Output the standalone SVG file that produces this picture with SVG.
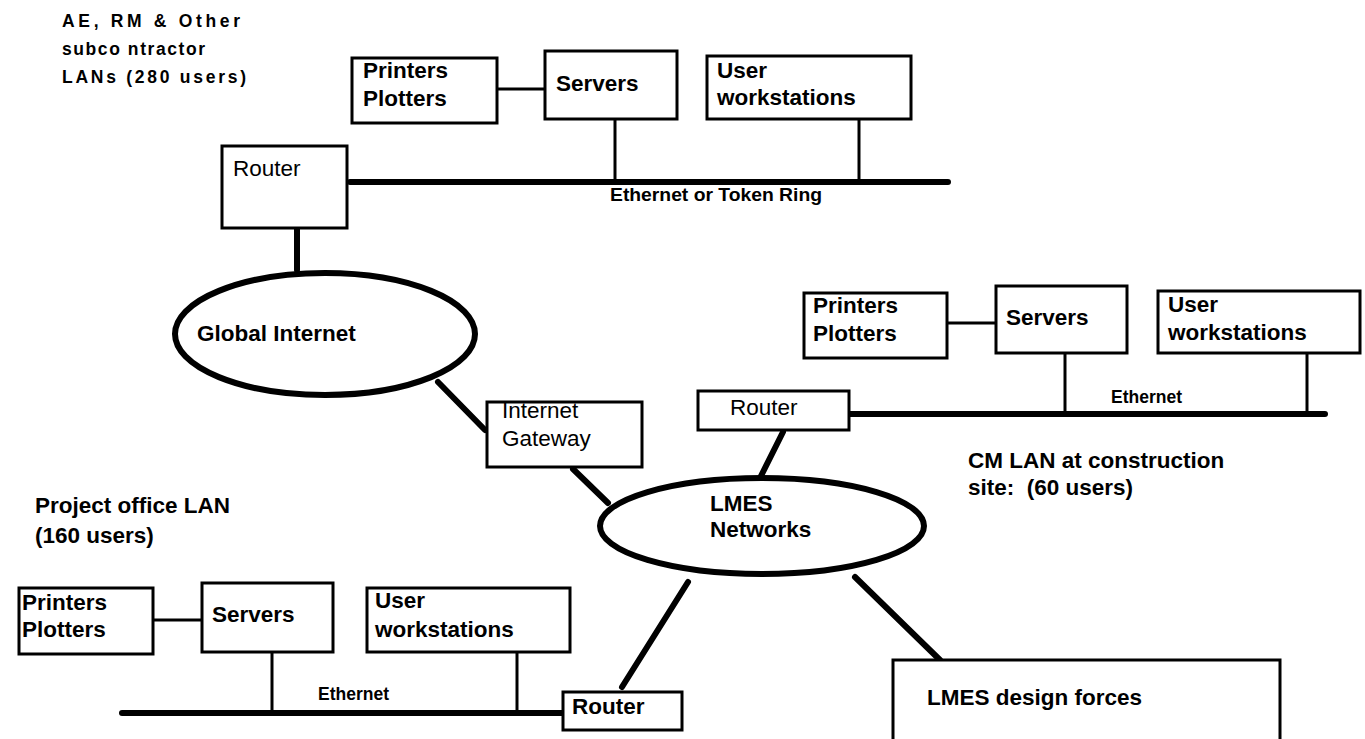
<svg xmlns="http://www.w3.org/2000/svg" width="1365" height="739" viewBox="0 0 1365 739">
<style>
  .box { fill: #fff; stroke: #000; stroke-width: 3; }
  .ell { fill: #fff; stroke: #000; stroke-width: 6; }
  .thin { stroke: #000; stroke-width: 3; fill: none; }
  .thick { stroke: #000; stroke-width: 6; fill: none; stroke-linecap: round; }
  .bus { stroke: #000; stroke-width: 6; fill: none; stroke-linecap: round; }
  .b { font-family: "Liberation Sans", Arial, sans-serif; font-weight: bold; font-size: 22.5px; fill: #000; }
  .r { font-family: "Liberation Sans", Arial, sans-serif; font-weight: normal; font-size: 22.5px; fill: #000; }
  .s { font-family: "Liberation Sans", Arial, sans-serif; font-weight: bold; font-size: 17.5px; fill: #000; }
  .h { font-family: "Liberation Sans", Arial, sans-serif; font-weight: bold; font-size: 17.5px; fill: #000; }
</style>
<rect width="1365" height="739" fill="#fff"/>

<g id="connectors">
  <line class="thin" x1="497" y1="89" x2="545" y2="89"/>
  <line class="thin" x1="615" y1="119" x2="615" y2="182"/>
  <line class="thin" x1="859" y1="119" x2="859" y2="182"/>
  <line class="bus" x1="350" y1="182" x2="948" y2="182"/>
  <line class="thick" x1="297" y1="229" x2="297" y2="270"/>
  <line class="thick" x1="438" y1="382" x2="485" y2="430"/>
  <line class="thick" x1="573" y1="469" x2="608" y2="503"/>
  <line class="thin" x1="947" y1="323" x2="996" y2="323"/>
  <line class="thin" x1="1065" y1="353" x2="1065" y2="414"/>
  <line class="thin" x1="1307" y1="353" x2="1307" y2="414"/>
  <line class="bus" x1="849" y1="414" x2="1325" y2="414"/>
  <line class="thick" x1="783" y1="432" x2="760" y2="478"/>
  <line class="thick" x1="855" y1="577" x2="940" y2="660"/>
  <line class="thick" x1="688" y1="582" x2="622" y2="687"/>
  <line class="thin" x1="153" y1="620" x2="203" y2="620"/>
  <line class="thin" x1="272" y1="652" x2="272" y2="713"/>
  <line class="thin" x1="517" y1="652" x2="517" y2="713"/>
  <line class="bus" x1="122" y1="713" x2="562" y2="713"/>
</g>

<g id="label-top">
  <text class="h" x="62" y="27" textLength="178" lengthAdjust="spacing">AE, RM  &amp; Other</text>
  <text class="h" x="62" y="55" textLength="143" lengthAdjust="spacing">subco ntractor</text>
  <text class="h" x="62" y="83" textLength="184" lengthAdjust="spacing">LANs (280 users)</text>
</g>

<g id="top-printers">
  <rect class="box" x="352" y="58" width="145" height="65"/>
  <text class="b" x="363" y="78">Printers</text>
  <text class="b" x="363" y="106">Plotters</text>
</g>
<g id="top-servers">
  <rect class="box" x="545" y="51" width="132" height="68"/>
  <text class="b" x="556" y="91">Servers</text>
</g>
<g id="top-workstations">
  <rect class="box" x="707" y="56" width="204" height="63"/>
  <text class="b" x="717" y="78">User</text>
  <text class="b" x="717" y="105">workstations</text>
</g>
<g id="top-router">
  <rect class="box" x="222" y="146" width="125" height="82"/>
  <text class="r" x="233" y="176">Router</text>
</g>
<g id="top-bus-label">
  <text class="s" x="610" y="201" textLength="212" lengthAdjust="spacingAndGlyphs">Ethernet or Token Ring</text>
</g>

<g id="global-internet">
  <ellipse class="ell" cx="325" cy="334" rx="150" ry="61"/>
  <text class="b" x="197" y="341">Global Internet</text>
</g>

<g id="internet-gateway">
  <rect class="box" x="487" y="402" width="155" height="65"/>
  <text class="r" x="502" y="418">Internet</text>
  <text class="r" x="502" y="446">Gateway</text>
</g>

<g id="lmes-networks">
  <ellipse class="ell" cx="762" cy="526" rx="162" ry="48"/>
  <text class="b" x="710" y="511">LMES</text>
  <text class="b" x="710" y="537">Networks</text>
</g>

<g id="cm-router">
  <rect class="box" x="698" y="391" width="151" height="39"/>
  <text class="r" x="730" y="415">Router</text>
</g>
<g id="cm-printers">
  <rect class="box" x="804" y="293" width="143" height="65"/>
  <text class="b" x="813" y="313">Printers</text>
  <text class="b" x="813" y="341">Plotters</text>
</g>
<g id="cm-servers">
  <rect class="box" x="996" y="286" width="131" height="67"/>
  <text class="b" x="1006" y="325">Servers</text>
</g>
<g id="cm-workstations">
  <rect class="box" x="1158" y="291" width="202" height="62"/>
  <text class="b" x="1168" y="312">User</text>
  <text class="b" x="1168" y="340">workstations</text>
</g>
<g id="cm-bus-label">
  <text class="s" x="1111" y="403">Ethernet</text>
</g>
<g id="cm-label">
  <text class="b" x="968" y="468">CM LAN at construction</text>
  <text class="b" x="968" y="495" xml:space="preserve">site:  (60 users)</text>
</g>

<g id="design-forces">
  <rect class="box" x="893" y="660" width="387" height="100"/>
  <text class="b" x="927" y="705">LMES design forces</text>
</g>

<g id="project-label">
  <text class="b" x="35" y="513">Project office LAN</text>
  <text class="b" x="35" y="543">(160 users)</text>
</g>
<g id="po-printers">
  <rect class="box" x="19" y="588" width="134" height="66"/>
  <text class="b" x="22" y="610">Printers</text>
  <text class="b" x="22" y="637">Plotters</text>
</g>
<g id="po-servers">
  <rect class="box" x="202" y="583" width="131" height="69"/>
  <text class="b" x="212" y="622">Servers</text>
</g>
<g id="po-workstations">
  <rect class="box" x="367" y="588" width="203" height="64"/>
  <text class="b" x="375" y="608">User</text>
  <text class="b" x="375" y="637">workstations</text>
</g>
<g id="po-bus-label">
  <text class="s" x="318" y="700">Ethernet</text>
</g>
<g id="po-router">
  <rect class="box" x="563" y="692" width="119" height="38"/>
  <text class="b" x="572" y="714">Router</text>
</g>
</svg>
